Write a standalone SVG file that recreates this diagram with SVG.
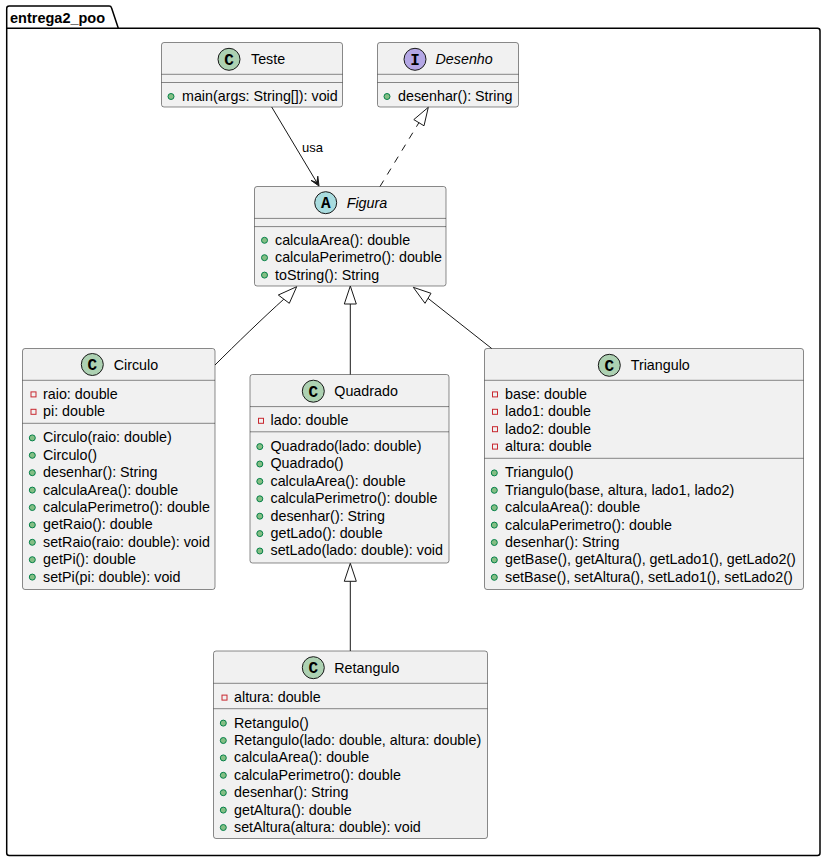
<svg xmlns="http://www.w3.org/2000/svg" width="826" height="862" viewBox="0 0 826 862">
  <style>
    .box { fill: #F1F1F1; stroke: #181818; stroke-width: 0.5; }
    .sep { stroke: #181818; stroke-width: 0.5; }
    .name { font-family: "Liberation Sans", Arial, sans-serif; font-size: 14.3px; fill: #000; }
    .abs { font-style: italic; }
    .mem { font-family: "Liberation Sans", Arial, sans-serif; font-size: 14.3px; fill: #000; }
    .lbl { font-family: "Liberation Sans", Arial, sans-serif; font-size: 13px; fill: #000; }
    .pkg { font-family: "Liberation Sans", Arial, sans-serif; font-size: 14.5px; font-weight: bold; fill: #000; }
    .pub { fill: #84BE84; stroke: #038048; stroke-width: 1; }
    .priv { fill: none; stroke: #C82930; stroke-width: 1; }
    .icoC { fill: #ADD1B2; stroke: #181818; stroke-width: 1; }
    .icoI { fill: #B4A7E5; stroke: #181818; stroke-width: 1; }
    .icoA { fill: #A9DCDF; stroke: #181818; stroke-width: 1; }
    .icoT { font-family: "Liberation Mono", "Courier New", monospace; font-size: 16px; font-weight: bold; fill: #000; text-anchor: middle; }
    .edge { fill: none; stroke: #181818; stroke-width: 1; }
    .dash { stroke-dasharray: 7 7; }
    .hollow { fill: none; stroke: #181818; stroke-width: 1; }
    .head { fill: #181818; stroke: #181818; stroke-width: 1; }
  </style>

  <!-- package frame -->
  <g id="pkg_entrega2_poo">
    <path d="M9.2,6 L109,6 A2.5,2.5 0 0 1 111.5,7.8 L118.3,28.3 L817.5,28.3 A2.5,2.5 0 0 1 820,30.8 L820,853 A2.5,2.5 0 0 1 817.5,855.5 L9.2,855.5 A2.5,2.5 0 0 1 6.7,853 L6.7,8.5 A2.5,2.5 0 0 1 9.2,6 Z" fill="none" stroke="#000" stroke-width="1.5"/>
    <line x1="6.7" y1="28.3" x2="118.3" y2="28.3" stroke="#000" stroke-width="1.5"/>
    <text class="pkg" x="10" y="22.5">entrega2_poo</text>
  </g>

  <!-- Teste -->
  <g id="Teste">
    <rect class="box" x="161.5" y="42.5" width="181" height="64.5" rx="2.5"/>
    <circle class="icoC" cx="229" cy="59.3" r="11"/>
    <text class="icoT" x="229" y="64.8">C</text>
    <text class="name" x="251" y="64.3">Teste</text>
    <line class="sep" x1="161.5" y1="74.3" x2="342.5" y2="74.3"/>
    <line class="sep" x1="161.5" y1="82.5" x2="342.5" y2="82.5"/>
    <circle class="pub" cx="171" cy="96.5" r="3"/>
    <text class="mem" x="182" y="101">main(args: String[]): void</text>
  </g>

  <!-- Desenho -->
  <g id="Desenho">
    <rect class="box" x="377.5" y="42.5" width="141" height="64.5" rx="2.5"/>
    <circle class="icoI" cx="415" cy="59.3" r="11"/>
    <text class="icoT" x="415" y="64.8">I</text>
    <text class="name abs" x="435.5" y="64.3">Desenho</text>
    <line class="sep" x1="377.5" y1="74.3" x2="518.5" y2="74.3"/>
    <line class="sep" x1="377.5" y1="82.5" x2="518.5" y2="82.5"/>
    <circle class="pub" cx="387" cy="96.5" r="3"/>
    <text class="mem" x="398" y="101">desenhar(): String</text>
  </g>

  <!-- Figura -->
  <g id="Figura">
    <rect class="box" x="254.5" y="186.5" width="191.5" height="99.5" rx="2.5"/>
    <circle class="icoA" cx="325.7" cy="202.7" r="11"/>
    <text class="icoT" x="325.7" y="208.2">A</text>
    <text class="name abs" x="346.7" y="207.8">Figura</text>
    <line class="sep" x1="254.5" y1="218.4" x2="446" y2="218.4"/>
    <line class="sep" x1="254.5" y1="226.6" x2="446" y2="226.6"/>
    <circle class="pub" cx="264.5" cy="240.3" r="3"/>
    <text class="mem" x="275" y="244.7">calculaArea(): double</text>
    <circle class="pub" cx="264.5" cy="257.7" r="3"/>
    <text class="mem" x="275" y="262.1">calculaPerimetro(): double</text>
    <circle class="pub" cx="264.5" cy="275.1" r="3"/>
    <text class="mem" x="275" y="279.5">toString(): String</text>
  </g>

  <!-- Circulo -->
  <g id="Circulo">
    <rect class="box" x="22.5" y="348.5" width="192.5" height="241" rx="2.5"/>
    <circle class="icoC" cx="92.3" cy="364.5" r="11"/>
    <text class="icoT" x="92.3" y="370">C</text>
    <text class="name" x="113.7" y="369.6">Circulo</text>
    <line class="sep" x1="22.5" y1="380.3" x2="215" y2="380.3"/>
    <rect class="priv" x="31" y="391.9" width="5" height="5"/>
    <text class="mem" x="43" y="398.8">raio: double</text>
    <rect class="priv" x="31" y="409.3" width="5" height="5"/>
    <text class="mem" x="43" y="416.2">pi: double</text>
    <line class="sep" x1="22.5" y1="423.3" x2="215" y2="423.3"/>
    <circle class="pub" cx="32.3" cy="437.9" r="3"/>
    <text class="mem" x="43" y="442.3">Circulo(raio: double)</text>
    <circle class="pub" cx="32.3" cy="455.3" r="3"/>
    <text class="mem" x="43" y="459.7">Circulo()</text>
    <circle class="pub" cx="32.3" cy="472.7" r="3"/>
    <text class="mem" x="43" y="477.1">desenhar(): String</text>
    <circle class="pub" cx="32.3" cy="490.1" r="3"/>
    <text class="mem" x="43" y="494.5">calculaArea(): double</text>
    <circle class="pub" cx="32.3" cy="507.5" r="3"/>
    <text class="mem" x="43" y="511.9">calculaPerimetro(): double</text>
    <circle class="pub" cx="32.3" cy="524.9" r="3"/>
    <text class="mem" x="43" y="529.3">getRaio(): double</text>
    <circle class="pub" cx="32.3" cy="542.3" r="3"/>
    <text class="mem" x="43" y="546.7">setRaio(raio: double): void</text>
    <circle class="pub" cx="32.3" cy="559.7" r="3"/>
    <text class="mem" x="43" y="564.1">getPi(): double</text>
    <circle class="pub" cx="32.3" cy="577.1" r="3"/>
    <text class="mem" x="43" y="581.5">setPi(pi: double): void</text>
  </g>

  <!-- Quadrado -->
  <g id="Quadrado">
    <rect class="box" x="250" y="374.5" width="199" height="188.5" rx="2.5"/>
    <circle class="icoC" cx="313.3" cy="391.2" r="11"/>
    <text class="icoT" x="313.3" y="396.7">C</text>
    <text class="name" x="334.3" y="396.3">Quadrado</text>
    <line class="sep" x1="250" y1="406.6" x2="449" y2="406.6"/>
    <rect class="priv" x="258.5" y="418.3" width="5" height="5"/>
    <text class="mem" x="270.5" y="425.3">lado: double</text>
    <line class="sep" x1="250" y1="431.8" x2="449" y2="431.8"/>
    <circle class="pub" cx="259.8" cy="446.6" r="3"/>
    <text class="mem" x="270.5" y="451">Quadrado(lado: double)</text>
    <circle class="pub" cx="259.8" cy="464" r="3"/>
    <text class="mem" x="270.5" y="468.4">Quadrado()</text>
    <circle class="pub" cx="259.8" cy="481.4" r="3"/>
    <text class="mem" x="270.5" y="485.8">calculaArea(): double</text>
    <circle class="pub" cx="259.8" cy="498.8" r="3"/>
    <text class="mem" x="270.5" y="503.2">calculaPerimetro(): double</text>
    <circle class="pub" cx="259.8" cy="516.2" r="3"/>
    <text class="mem" x="270.5" y="520.6">desenhar(): String</text>
    <circle class="pub" cx="259.8" cy="533.6" r="3"/>
    <text class="mem" x="270.5" y="538">getLado(): double</text>
    <circle class="pub" cx="259.8" cy="551" r="3"/>
    <text class="mem" x="270.5" y="555.4">setLado(lado: double): void</text>
  </g>

  <!-- Triangulo -->
  <g id="Triangulo">
    <rect class="box" x="484.5" y="348.5" width="319" height="241" rx="2.5"/>
    <circle class="icoC" cx="609.3" cy="365.3" r="11"/>
    <text class="icoT" x="609.3" y="370.8">C</text>
    <text class="name" x="630.7" y="370.3">Triangulo</text>
    <line class="sep" x1="484.5" y1="380.3" x2="803.5" y2="380.3"/>
    <rect class="priv" x="492.5" y="391.9" width="5" height="5"/>
    <text class="mem" x="505" y="398.8">base: double</text>
    <rect class="priv" x="492.5" y="409.3" width="5" height="5"/>
    <text class="mem" x="505" y="416.2">lado1: double</text>
    <rect class="priv" x="492.5" y="426.7" width="5" height="5"/>
    <text class="mem" x="505" y="433.6">lado2: double</text>
    <rect class="priv" x="492.5" y="444.1" width="5" height="5"/>
    <text class="mem" x="505" y="451">altura: double</text>
    <line class="sep" x1="484.5" y1="458.3" x2="803.5" y2="458.3"/>
    <circle class="pub" cx="494.3" cy="472.9" r="3"/>
    <text class="mem" x="505" y="477.3">Triangulo()</text>
    <circle class="pub" cx="494.3" cy="490.3" r="3"/>
    <text class="mem" x="505" y="494.7">Triangulo(base, altura, lado1, lado2)</text>
    <circle class="pub" cx="494.3" cy="507.7" r="3"/>
    <text class="mem" x="505" y="512.1">calculaArea(): double</text>
    <circle class="pub" cx="494.3" cy="525.1" r="3"/>
    <text class="mem" x="505" y="529.5">calculaPerimetro(): double</text>
    <circle class="pub" cx="494.3" cy="542.5" r="3"/>
    <text class="mem" x="505" y="546.9">desenhar(): String</text>
    <circle class="pub" cx="494.3" cy="559.9" r="3"/>
    <text class="mem" x="505" y="564.3">getBase(), getAltura(), getLado1(), getLado2()</text>
    <circle class="pub" cx="494.3" cy="577.3" r="3"/>
    <text class="mem" x="505" y="581.7">setBase(), setAltura(), setLado1(), setLado2()</text>
  </g>

  <!-- Retangulo -->
  <g id="Retangulo">
    <rect class="box" x="213.5" y="651" width="274" height="187.5" rx="2.5"/>
    <circle class="icoC" cx="313.3" cy="667.7" r="11"/>
    <text class="icoT" x="313.3" y="673.2">C</text>
    <text class="name" x="334.3" y="672.8">Retangulo</text>
    <line class="sep" x1="213.5" y1="683.3" x2="487.5" y2="683.3"/>
    <rect class="priv" x="222" y="695.1" width="5" height="5"/>
    <text class="mem" x="234" y="702">altura: double</text>
    <line class="sep" x1="213.5" y1="708.7" x2="487.5" y2="708.7"/>
    <circle class="pub" cx="223.3" cy="723.1" r="3"/>
    <text class="mem" x="234" y="727.5">Retangulo()</text>
    <circle class="pub" cx="223.3" cy="740.5" r="3"/>
    <text class="mem" x="234" y="744.9">Retangulo(lado: double, altura: double)</text>
    <circle class="pub" cx="223.3" cy="757.9" r="3"/>
    <text class="mem" x="234" y="762.3">calculaArea(): double</text>
    <circle class="pub" cx="223.3" cy="775.3" r="3"/>
    <text class="mem" x="234" y="779.7">calculaPerimetro(): double</text>
    <circle class="pub" cx="223.3" cy="792.7" r="3"/>
    <text class="mem" x="234" y="797.1">desenhar(): String</text>
    <circle class="pub" cx="223.3" cy="810.1" r="3"/>
    <text class="mem" x="234" y="814.5">getAltura(): double</text>
    <circle class="pub" cx="223.3" cy="827.5" r="3"/>
    <text class="mem" x="234" y="831.9">setAltura(altura: double): void</text>
  </g>

  <!-- connectors -->
  <g id="links">
    <!-- Teste uses Figura -->
    <line class="edge" x1="271.7" y1="107" x2="316.9" y2="182.6"/>
    <polygon class="head" points="319,186 311,180.4 316.9,182.6 317.8,176.2"/>
    <text class="lbl" x="302" y="151.5">usa</text>

    <!-- Figura realizes Desenho -->
    <line class="edge dash" x1="380" y1="186.5" x2="418.9" y2="122.7"/>
    <polygon class="hollow" points="428.3,107.3 413.8,119.6 424,125.8"/>

    <!-- Circulo extends Figura -->
    <path class="edge" d="M215,365 C 235,345 265,316 283.8,299.2"/>
    <polygon class="hollow" points="296.7,286.7 278.3,295 289.3,303.3"/>

    <!-- Quadrado extends Figura -->
    <line class="edge" x1="350.3" y1="374.5" x2="350.3" y2="304"/>
    <polygon class="hollow" points="350.3,286 344.3,304 356.3,304"/>

    <!-- Triangulo extends Figura -->
    <line class="edge" x1="491.7" y1="348.5" x2="428" y2="298.3"/>
    <polygon class="hollow" points="413.3,287.3 431,293.3 425,303.3"/>

    <!-- Retangulo extends Quadrado -->
    <line class="edge" x1="350.3" y1="651" x2="350.3" y2="581.3"/>
    <polygon class="hollow" points="350.3,563.3 344.3,581.3 356.3,581.3"/>
  </g>
</svg>
